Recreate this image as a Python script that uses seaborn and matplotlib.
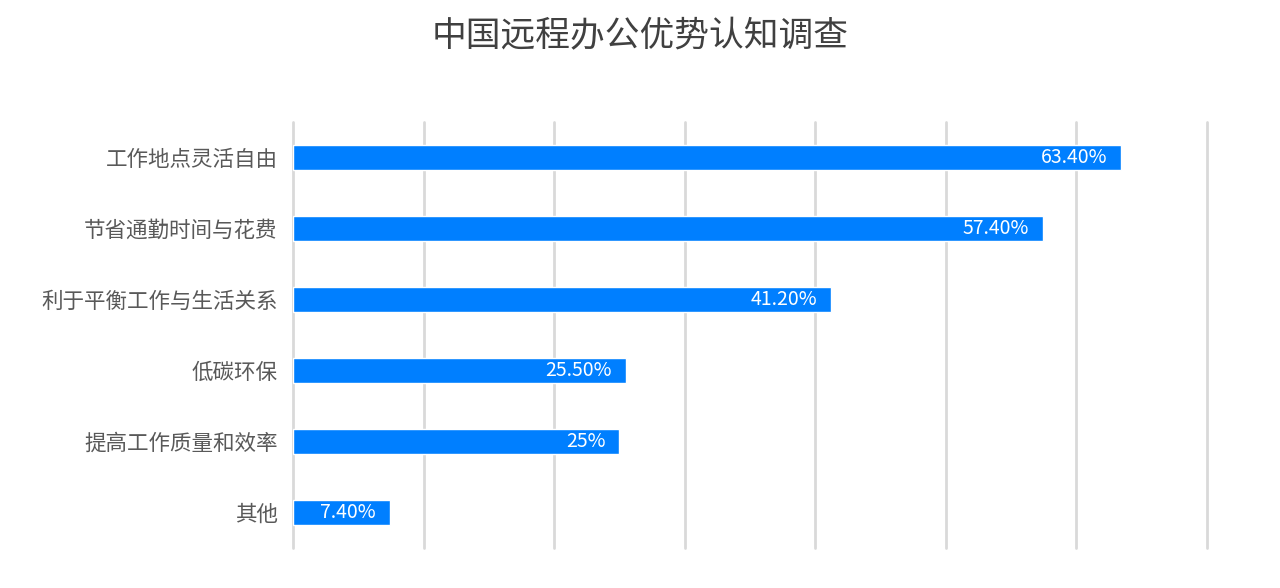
import matplotlib
matplotlib.use("Agg")
import matplotlib.pyplot as plt
import seaborn as sns
import pandas as pd

# Chart data
categories = ["工作地点灵活自由", "节省通勤时间与花费", "利于平衡工作与生活关系",
              "低碳环保", "提高工作质量和效率", "其他"]
values = [63.4, 57.4, 41.2, 25.5, 25.0, 7.4]
value_labels = ["63.40%", "57.40%", "41.20%", "25.50%", "25%", "7.40%"]
x_ticks = [0, 10, 20, 30, 40, 50, 60, 70]

sns.set_theme(style="white")
plt.rcParams['font.family'] = ['Noto Sans CJK SC', 'DejaVu Sans']

df = pd.DataFrame({"category": categories, "value": values})

fig = plt.figure(figsize=(12.8, 5.88), dpi=100)
ax = fig.add_axes([0.2289, 0.068, 0.7141, 0.7245])

sns.barplot(data=df, x="value", y="category", orient="h", color="#007FFF",
            saturation=1, width=0.35, ax=ax, zorder=3)

ax.set_xlim(0, 70)
ax.set_ylim(5.5, -0.5)
ax.set_xticks(x_ticks)
ax.xaxis.grid(True, color="#d9d9d9", linewidth=2)
for gl in ax.get_xgridlines():
    gl.set_clip_on(False)
ax.set_axisbelow(True)
ax.tick_params(axis="x", labelbottom=False, length=0)
ax.tick_params(axis="y", length=0, labelsize=15.5, labelcolor="#595959", pad=11)
for s in ax.spines.values():
    s.set_visible(False)
ax.set_xlabel("")
ax.set_ylabel("")

# value labels inside the bar ends
for i, (v, lab) in enumerate(zip(values, value_labels)):
    ax.annotate(lab, xy=(v, i), xytext=(-10, 0), textcoords="offset points",
                ha="right", va="center", color="white", fontsize=14, zorder=4)

fig.text(0.5, 0.937, "中国远程办公优势认知调查", ha="center", va="center",
         fontsize=25, color="#404040")

fig.savefig("out.png", dpi=100)
